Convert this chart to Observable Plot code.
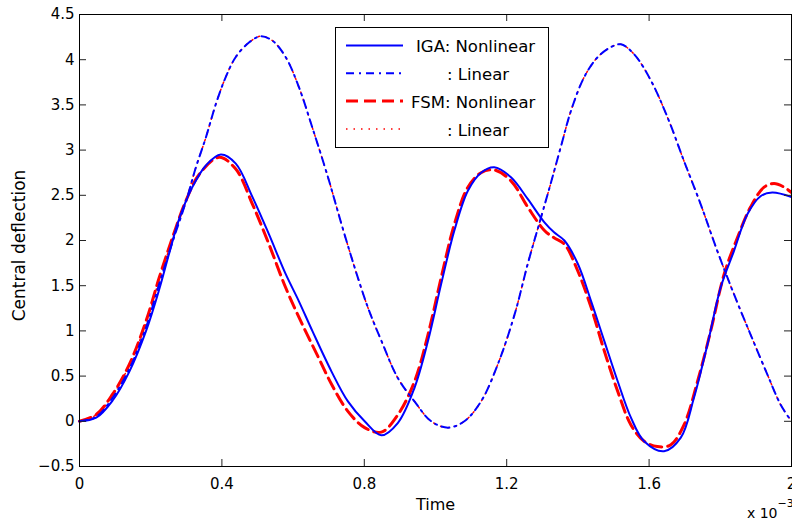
<!DOCTYPE html>
<html>
<head>
<meta charset="utf-8">
<script src="https://cdn.jsdelivr.net/npm/d3@7"></script>
<script src="https://cdn.jsdelivr.net/npm/@observablehq/plot@0.6"></script>
<style>
  html, body { margin: 0; padding: 0; background: white; }
  #chart { width: 792px; height: 523px; overflow: hidden; }
</style>
</head>
<body>
<div id="chart"></div>
<script>
// Time values are in units of 10^-3
const xTicks = [0, 0.4, 0.8, 1.2, 1.6, 2];
const xTickLabels = ["0", "0.4", "0.8", "1.2", "1.6", "2"];
const yTicks = [-0.5, 0, 0.5, 1, 1.5, 2, 2.5, 3, 3.5, 4, 4.5];
const yTickLabels = ["\u22120.5", "0", "0.5", "1", "1.5", "2", "2.5", "3", "3.5", "4", "4.5"];

const seriesNames = ["IGA: Nonlinear", ": Linear", "FSM: Nonlinear", ": Linear"];

const igaNonlinearT = [0, 0.047, 0.093, 0.14, 0.187, 0.224, 0.252, 0.28, 0.317, 0.355, 0.397, 0.439, 0.486, 0.532, 0.579, 0.616, 0.654, 0.708, 0.754, 0.801, 0.848, 0.894, 0.941, 0.979, 1.016, 1.053, 1.091, 1.128, 1.165, 1.212, 1.259, 1.306, 1.333, 1.362, 1.40, 1.437, 1.474, 1.512, 1.549, 1.586, 1.642, 1.689, 1.726, 1.764, 1.801, 1.838, 1.876, 1.913, 1.946, 2.0];
const igaNonlinearY = [0, 0.04, 0.23, 0.55, 1.0, 1.46, 1.86, 2.24, 2.59, 2.83, 2.95, 2.85, 2.48, 2.07, 1.63, 1.33, 1.0, 0.55, 0.22, 0.0, -0.155, -0.02, 0.37, 0.89, 1.52, 2.11, 2.55, 2.75, 2.81, 2.70, 2.46, 2.20, 2.09, 2.0, 1.74, 1.33, 0.89, 0.44, 0.04, -0.22, -0.33, -0.18, 0.26, 0.85, 1.48, 1.88, 2.29, 2.49, 2.53, 2.48];

const fsmNonlinearT = [0, 0.047, 0.093, 0.14, 0.187, 0.224, 0.261, 0.299, 0.336, 0.392, 0.439, 0.486, 0.532, 0.579, 0.626, 0.672, 0.708, 0.754, 0.801, 0.848, 0.894, 0.941, 0.979, 1.016, 1.053, 1.091, 1.128, 1.165, 1.212, 1.259, 1.306, 1.333, 1.362, 1.40, 1.437, 1.474, 1.512, 1.549, 1.586, 1.623, 1.661, 1.698, 1.736, 1.773, 1.811, 1.848, 1.885, 1.923, 1.951, 1.979, 2.0];
const fsmNonlinearY = [0, 0.075, 0.30, 0.63, 1.11, 1.59, 2.03, 2.44, 2.73, 2.92, 2.79, 2.40, 1.96, 1.48, 1.07, 0.70, 0.41, 0.11, -0.07, -0.12, 0.07, 0.44, 0.96, 1.59, 2.18, 2.59, 2.75, 2.78, 2.66, 2.37, 2.11, 2.03, 1.96, 1.66, 1.26, 0.78, 0.33, -0.04, -0.22, -0.28, -0.26, -0.04, 0.44, 1.0, 1.63, 2.03, 2.37, 2.59, 2.63, 2.59, 2.53];

const igaLinearT = [0, 0.047, 0.093, 0.14, 0.187, 0.224, 0.261, 0.299, 0.327, 0.355, 0.383, 0.411, 0.439, 0.476, 0.509, 0.542, 0.579, 0.616, 0.654, 0.698, 0.736, 0.773, 0.810, 0.848, 0.894, 0.941, 0.988, 1.035, 1.081, 1.128, 1.175, 1.222, 1.259, 1.296, 1.325, 1.353, 1.381, 1.418, 1.456, 1.493, 1.521, 1.558, 1.605, 1.652, 1.698, 1.745, 1.792, 1.839, 1.885, 1.932, 1.970, 2.0];
const igaLinearY = [0, 0.05, 0.26, 0.58, 1.04, 1.52, 1.98, 2.43, 2.81, 3.14, 3.51, 3.81, 4.03, 4.19, 4.26, 4.21, 4.03, 3.70, 3.25, 2.70, 2.18, 1.70, 1.26, 0.89, 0.48, 0.22, 0.0, -0.07, 0.0, 0.22, 0.63, 1.18, 1.74, 2.25, 2.65, 3.05, 3.44, 3.81, 4.03, 4.14, 4.17, 4.06, 3.77, 3.36, 2.88, 2.40, 1.88, 1.40, 0.96, 0.52, 0.18, 0.0];

const fsmLinearT = igaLinearT;
const fsmLinearY = [0, 0.07, 0.29, 0.62, 1.09, 1.57, 2.01, 2.44, 2.81, 3.14, 3.51, 3.81, 4.03, 4.19, 4.26, 4.21, 4.03, 3.70, 3.25, 2.70, 2.18, 1.70, 1.26, 0.89, 0.48, 0.22, 0.0, -0.07, 0.0, 0.22, 0.63, 1.18, 1.74, 2.25, 2.65, 3.05, 3.44, 3.81, 4.03, 4.14, 4.17, 4.06, 3.77, 3.36, 2.88, 2.40, 1.88, 1.40, 0.96, 0.52, 0.18, 0.0];

const toRows = (ts, ys) => ts.map((t, i) => ({t, y: ys[i]}));

const W = 792, H = 523, mL = 79, mR = 1, mT = 14, mB = 57;
const plotW = W - mL - mR, plotH = H - mT - mB;
const TL = 7;
const font = "DejaVu Sans";

const styles = [
  {stroke: "#0000ff", strokeWidth: 2, dash: null},
  {stroke: "#0000ff", strokeWidth: 2, dash: "8,5,2,5"},
  {stroke: "#ff0000", strokeWidth: 3, dash: "12,6"},
  {stroke: "#ff0000", strokeWidth: 1.5, dash: "1.5,6"}
];

const lineMark = (rows, s) => Plot.line(rows, {
  x: "t", y: "y", stroke: s.stroke, strokeWidth: s.strokeWidth,
  strokeDasharray: s.dash || undefined, curve: "catmull-rom"
});

const svg = Plot.plot({
  width: W, height: H,
  marginLeft: mL, marginRight: mR, marginTop: mT, marginBottom: mB,
  style: {fontFamily: font, fontSize: "15px", background: "white", color: "black"},
  x: {domain: [0, 2]},
  y: {domain: [-0.5, 4.5]},
  marks: [
    Plot.axisX({ticks: xTicks, tickSize: 0, tickPadding: 12, tickFormat: (d, i) => xTickLabels[i], label: null, fontSize: 15}),
    Plot.axisY({ticks: yTicks, tickSize: 0, tickPadding: 5, tickFormat: (d, i) => yTickLabels[i], label: null, fontSize: 15}),
    lineMark(toRows(fsmNonlinearT, fsmNonlinearY), styles[2]),
    lineMark(toRows(fsmLinearT, fsmLinearY), styles[3]),
    lineMark(toRows(igaNonlinearT, igaNonlinearY), styles[0]),
    lineMark(toRows(igaLinearT, igaLinearY), styles[1]),
    Plot.tickX(xTicks, {x: d => d, insetTop: plotH - TL, stroke: "#222"}),
    Plot.tickX(xTicks, {x: d => d, insetBottom: plotH - TL, stroke: "#222"}),
    Plot.tickY(yTicks, {y: d => d, insetRight: plotW - TL, stroke: "#222"}),
    Plot.tickY(yTicks, {y: d => d, insetLeft: plotW - TL, stroke: "#222"}),
    Plot.frame({stroke: "black", strokeWidth: 1}),
    Plot.text(["Time"], {frameAnchor: "bottom", text: d => d, textAnchor: "middle", lineAnchor: "middle", dy: 38, fontSize: 16}),
    Plot.text(["Central deflection"], {frameAnchor: "left", text: d => d, textAnchor: "middle", lineAnchor: "middle", rotate: -90, dx: -60, dy: 5, fontSize: 17}),
    Plot.text(["x 10"], {frameAnchor: "bottom-right", text: d => d, textAnchor: "end", lineAnchor: "middle", dx: -14, dy: 47, fontSize: 14}),
    Plot.text(["\u22123"], {frameAnchor: "bottom-right", text: d => d, textAnchor: "start", lineAnchor: "middle", dx: -14, dy: 37, fontSize: 11})
  ]
});

// Legend inside the axes (upper middle), MATLAB style
const legend = d3.select(svg).append("g")
  .attr("font-family", font).style("font-size", "16.5px").attr("text-anchor", "start");
legend.append("rect").attr("x", 335.5).attr("y", 27.5).attr("width", 213).attr("height", 120)
  .attr("fill", "white").attr("stroke", "black").attr("stroke-width", 1);
const rowY = [45.5, 73.3, 101, 129];
const textX = [416, 447, 411, 447];
seriesNames.forEach((name, i) => {
  const s = styles[i];
  legend.append("line").attr("x1", 346).attr("x2", 403).attr("y1", rowY[i]).attr("y2", rowY[i])
    .attr("stroke", s.stroke).attr("stroke-width", s.strokeWidth)
    .attr("stroke-dasharray", s.dash);
  legend.append("text").attr("x", textX[i]).attr("y", rowY[i] + 6.5).attr("fill", "black")
    .attr("text-anchor", "start").text(name);
});

document.getElementById("chart").appendChild(svg);
</script>
</body>
</html>
